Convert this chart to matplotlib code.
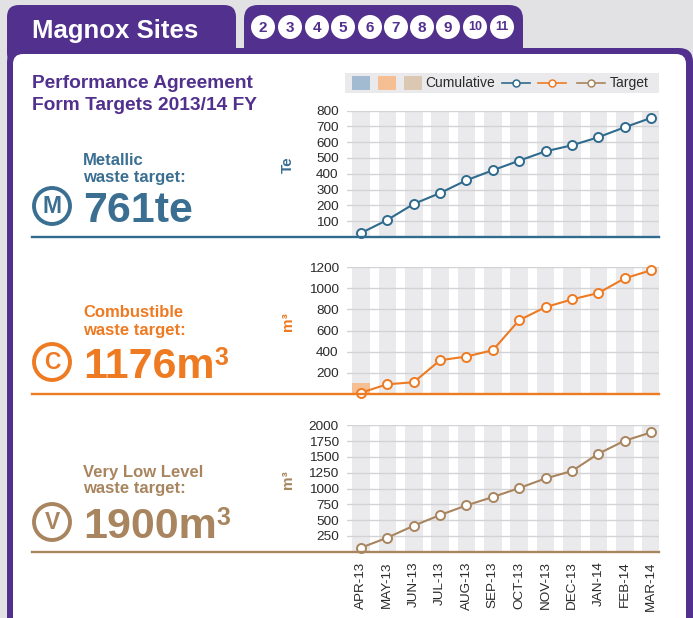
import matplotlib
matplotlib.use('Agg')
import matplotlib.pyplot as plt
from matplotlib.patches import FancyBboxPatch, Rectangle, Circle
from matplotlib.lines import Line2D
import numpy as np

plt.rcParams['font.family'] = ['Liberation Sans', 'DejaVu Sans']

# ---------------- data ----------------
months = ['APR-13', 'MAY-13', 'JUN-13', 'JUL-13', 'AUG-13', 'SEP-13',
          'OCT-13', 'NOV-13', 'DEC-13', 'JAN-14', 'FEB-14', 'MAR-14']

metallic_target = [25, 108, 209, 278, 359, 422, 483, 542, 580, 631, 694, 753]
metallic_cum = [8, 0, 0, 0, 0, 0, 0, 0, 0, 0, 0, 0]
metallic_ticks = [100, 200, 300, 400, 500, 600, 700, 800]

combustible_target = [13, 92, 111, 319, 354, 414, 698, 821, 894, 954, 1093, 1169]
combustible_cum = [104, 0, 0, 0, 0, 0, 0, 0, 0, 0, 0, 0]
combustible_ticks = [200, 400, 600, 800, 1000, 1200]

vll_target = [63, 222, 411, 580, 733, 865, 1007, 1160, 1276, 1551, 1756, 1888]
vll_cum = [0, 0, 0, 0, 0, 0, 0, 0, 0, 0, 0, 0]
vll_ticks = [250, 500, 750, 1000, 1250, 1500, 1750, 2000]

site_numbers = ['2', '3', '4', '5', '6', '7', '8', '9', '10', '11']

# ---------------- style ----------------
W, H = 693, 618
PURPLE = '#51308e'
BG = '#e2e2e4'
BLUE = '#2f6b8e'
BLUE_TXT = '#3a6f92'
ORANGE = '#ee7a22'
TAN = '#a8855f'
BLUE_L = '#a3bbd1'
ORANGE_L = '#f5bf93'
TAN_L = '#dbc8b3'
BAND = '#eaeaec'
GRID = '#d3d3d6'
TICK = '#2a2a2a'

fig = plt.figure(figsize=(W / 100, H / 100), dpi=100)
fig.patch.set_facecolor(BG)


def pix_axes(z):
    a = fig.add_axes([0, 0, 1, 1], zorder=z)
    a.set_xlim(0, W)
    a.set_ylim(H, 0)
    a.axis('off')
    return a


bg = pix_axes(0)
ov = pix_axes(5)

# tabs and panel
bg.add_patch(FancyBboxPatch((7, 5), 229, 60, boxstyle='round,pad=0,rounding_size=12',
                            fc=PURPLE, ec='none'))
bg.add_patch(FancyBboxPatch((244, 5), 279, 60, boxstyle='round,pad=0,rounding_size=14',
                            fc=PURPLE, ec='none'))
bg.add_patch(FancyBboxPatch((7, 48), 686, 620, boxstyle='round,pad=0,rounding_size=14',
                            fc=PURPLE, ec='none'))
bg.add_patch(FancyBboxPatch((13, 54), 673, 620, boxstyle='round,pad=0,rounding_size=10',
                            fc='white', ec='none'))

ov.text(32, 38, 'Magnox Sites', color='white', fontsize=18.5, fontweight='bold', va='baseline')

cx = [263, 290, 317, 343, 370, 396, 422, 448, 475, 502]
for x0, s in zip(cx, site_numbers):
    ov.add_patch(Circle((x0, 27), 12, fc='white', ec='none'))
    ov.text(x0, 27.5, s, color=PURPLE, fontsize=11 if len(s) == 1 else 9,
            fontweight='bold', ha='center', va='center')

ov.text(32, 88, 'Performance Agreement', color=PURPLE, fontsize=13.8, fontweight='bold', va='baseline')
ov.text(32, 110, 'Form Targets 2013/14 FY', color=PURPLE, fontsize=13.8, fontweight='bold', va='baseline')

# legend
ov.add_patch(Rectangle((345, 73), 314, 20, fc=BAND, ec='none'))
for x0, c in zip([352, 378, 404], [BLUE_L, ORANGE_L, TAN_L]):
    ov.add_patch(Rectangle((x0, 76), 18, 14, fc=c, ec='none'))
ov.text(425, 83, 'Cumulative', fontsize=10, va='center', color=TICK)
for x0, c in zip([502, 538, 577], [BLUE, ORANGE, TAN]):
    ov.add_line(Line2D([x0, x0 + 28], [83, 83], color=c, lw=1.2))
    ov.add_line(Line2D([x0 + 14], [83], color=c, marker='o', ms=5, mfc='white', mec=c, mew=1.1))
ov.text(610, 83, 'Target', fontsize=10, va='center', color=TICK)

# ---------------- charts ----------------
x = np.arange(len(months))
panels = [
    dict(top=110.5, bot=237, ymax=800, target=metallic_target, cum=metallic_cum,
         ticks=metallic_ticks, col=BLUE, txt=BLUE_TXT, light=BLUE_L,
         label='Te', ly=165, l1='Metallic', l2='waste target:', b1=165, b2=182,
         big='761te', sup=None, bb=222, icon='M'),
    dict(top=267, bot=394, ymax=1200, target=combustible_target, cum=combustible_cum,
         ticks=combustible_ticks, col=ORANGE, txt=ORANGE, light=ORANGE_L,
         label='m³', ly=322, l1='Combustible', l2='waste target:', b1=317, b2=335,
         big='1176m', sup='3', bb=378, icon='C'),
    dict(top=425.3, bot=551.7, ymax=2000, target=vll_target, cum=vll_cum,
         ticks=vll_ticks, col=TAN, txt=TAN, light=TAN_L,
         label='m³', ly=480, l1='Very Low Level', l2='waste target:', b1=477, b2=493,
         big='1900m', sup='3', bb=538, icon='V'),
]

for i, p in enumerate(panels):
    ax = fig.add_axes([347 / W, 1 - p['bot'] / H, (659 - 347) / W, (p['bot'] - p['top']) / H], zorder=3)
    ax.patch.set_alpha(0)
    ax.set_xlim(-0.53, 11.3)
    ax.set_ylim(0, p['ymax'])
    for xi in x:
        ax.axvspan(xi - 0.335, xi + 0.335, color=BAND, lw=0, zorder=0)
    for t in p['ticks']:
        ax.axhline(t, color=GRID, lw=1, zorder=1)
    ax.bar(x, p['cum'], width=0.67, color=p['light'], zorder=2)
    ax.plot(x, p['target'], color=p['col'], lw=1.5, marker='o', ms=6.5, mfc='white',
            mec=p['col'], mew=1.4, zorder=4, clip_on=False)
    for s in ax.spines.values():
        s.set_visible(False)
    ax.set_yticks(p['ticks'])
    ax.tick_params(axis='y', length=0, pad=6, labelsize=9.7, labelcolor=TICK)
    ax.set_xticks(x)
    if i == 2:
        ax.set_xticklabels(months, rotation=90, fontsize=9.7, color=TICK)
        ax.tick_params(axis='x', length=0, pad=7)
    else:
        ax.tick_params(axis='x', length=0, labelbottom=False)

    # baseline line
    ov.add_line(Line2D([32, 659], [p['bot'], p['bot']], color=p['col'], lw=1.7))
    # y label
    ov.text(288, p['ly'], p['label'], rotation=90, ha='center', va='center',
            fontsize=11, fontweight='bold', color=p['txt'])
    # left texts
    ov.text(83, p['b1'], p['l1'], fontsize=12, fontweight='bold', color=p['txt'], va='baseline')
    ov.text(83, p['b2'], p['l2'], fontsize=12, fontweight='bold', color=p['txt'], va='baseline')
    t = ov.text(83, p['bb'], p['big'], fontsize=31, fontweight='bold', color=p['txt'], va='baseline')
    if p['sup']:
        ov.annotate(p['sup'], xy=(1, 1), xycoords=t, xytext=(0, 1), textcoords='offset points',
                    ha='left', va='top', fontsize=18, fontweight='bold', color=p['txt'])
    cy = p['bb'] - 16
    ov.add_patch(Circle((52, cy), 18, fill=False, ec=p['txt'], lw=2.8))
    ov.text(52, cy + 0.5, p['icon'], ha='center', va='center', fontsize=16.5,
            fontweight='bold', color=p['txt'])

fig.savefig('out.png', dpi=100, facecolor=fig.get_facecolor())
